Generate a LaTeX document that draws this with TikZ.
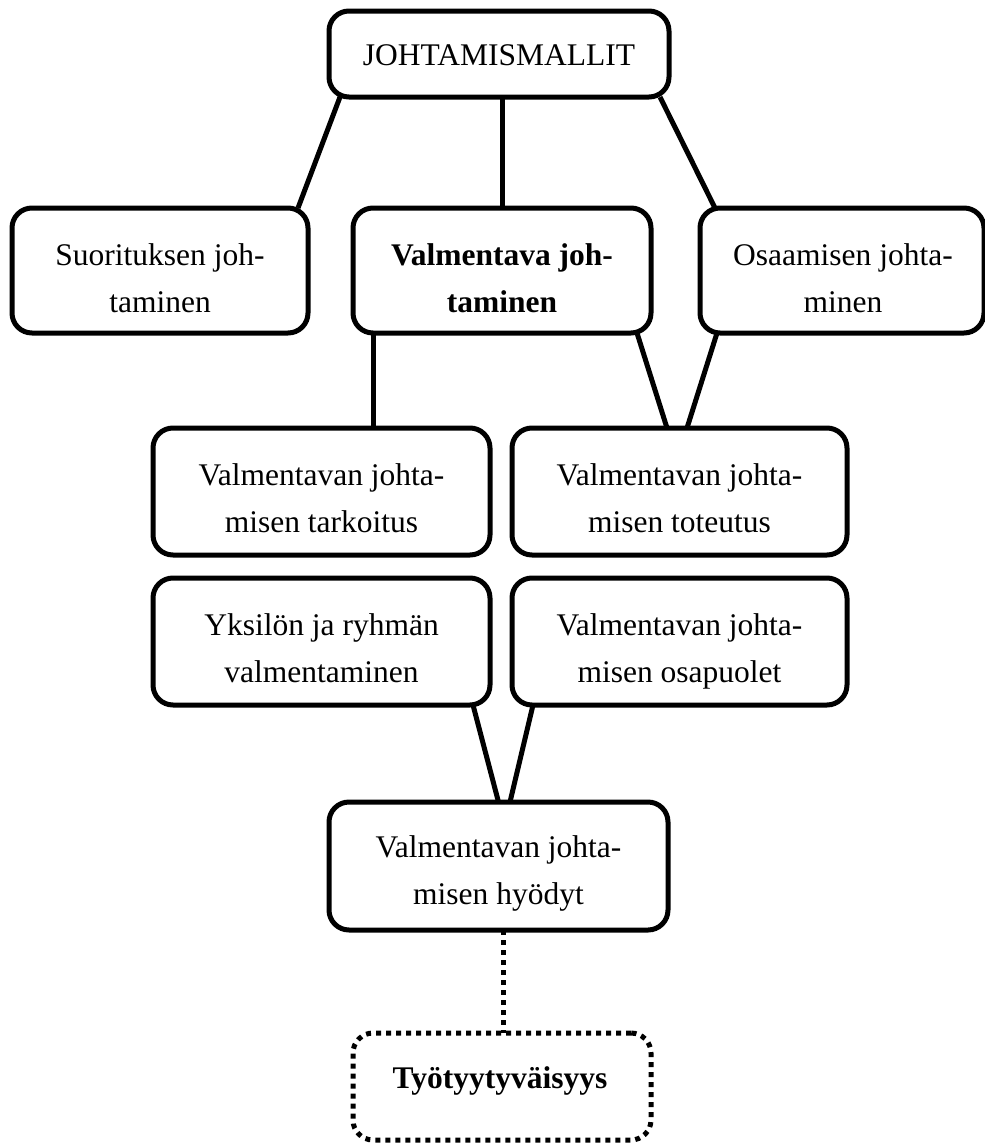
\documentclass[tikz,border=0pt]{standalone}
\usepackage{fontspec}
\setmainfont{Liberation Serif}
\usetikzlibrary{calc}
\newcommand\mytwoline[2]{\begin{tabular}[t]{@{}c@{}}#1\\#2\end{tabular}}
\tikzset{
  box/.style={draw, line width=5pt, rounded corners=20pt, inner sep=0pt, outer sep=0pt, fill=white},
  dotbox/.style={box, dash pattern=on 5pt off 5pt},
  txt/.style={anchor=base, inner sep=0pt, font=\fontsize{31.5}{47}\selectfont},
  conn/.style={line width=5pt},
  dotconn/.style={line width=5pt, dash pattern=on 5pt off 5pt},
}
\begin{document}
\begin{tikzpicture}[x=1pt, y=-1pt]
\useasboundingbox (0,0) rectangle (985,1144);
% boxes
\node[box, minimum width=340pt, minimum height=86pt] (top) at (499,54) {};
\node[box, minimum width=296pt, minimum height=125pt] (suor) at (160,270.5) {};
\node[box, minimum width=298pt, minimum height=125pt] (valm) at (502,270.5) {};
\node[box, minimum width=284pt, minimum height=125pt] (osaa) at (842,270.5) {};
\node[box, minimum width=337pt, minimum height=127pt] (tark) at (321.5,491.5) {};
\node[box, minimum width=335pt, minimum height=127pt] (tot) at (679.5,491.5) {};
\node[box, minimum width=337pt, minimum height=127pt] (yks) at (321.5,641.5) {};
\node[box, minimum width=335pt, minimum height=127pt] (osap) at (679.5,641.5) {};
\node[box, minimum width=339pt, minimum height=128pt] (hyo) at (498.5,866) {};
\node[dotbox, minimum width=298pt, minimum height=107pt] (tyo) at (502,1086.5) {};
% texts
\node[txt] (toptxt) at (499,65) {JOHTAMISMALLIT};
\node[txt] (suortxt) at (160,265) {\mytwoline{Suorituksen joh-}{taminen}};
\node[txt] (valmtxt) at (502,265) {\mytwoline{\textbf{Valmentava joh-}}{\textbf{taminen}}};
\node[txt] (osaatxt) at (843,265) {\mytwoline{Osaamisen johta-}{minen}};
\node[txt] (tarktxt) at (321.5,485) {\mytwoline{Valmentavan johta-}{misen tarkoitus}};
\node[txt] (tottxt) at (679.5,485) {\mytwoline{Valmentavan johta-}{misen toteutus}};
\node[txt] (ykstxt) at (321.5,635) {\mytwoline{Yksilön ja ryhmän}{valmentaminen}};
\node[txt] (osaptxt) at (679.5,635) {\mytwoline{Valmentavan johta-}{misen osapuolet}};
\node[txt] (hyotxt) at (498.5,857) {\mytwoline{Valmentavan johta-}{misen hyödyt}};
\node[txt] (tyotxt) at (500,1088) {\textbf{Työtyytyväisyys}};
% connectors
\draw[conn] ([xshift=11pt]top.south west) -- ([xshift=-10pt]suor.north east);
\draw[conn] (valm.north) -- (valm.north |- top.south);
\draw[conn] ([xshift=-9pt]top.south east) -- ([xshift=15pt]osaa.north west);
\coordinate (v1) at ([xshift=20pt]valm.south west);
\draw[conn] (v1) -- (v1 |- tark.north);
\draw[conn] ([xshift=-14pt]valm.south east) -- ([xshift=-12.5pt]tot.north);
\draw[conn] ([xshift=17pt]osaa.south west) -- ([xshift=7.5pt]tot.north);
\draw[conn] ([xshift=-17pt]yks.south east) -- (hyo.north);
\draw[conn] ([xshift=21pt]osap.south west) -- ([xshift=11.5pt]hyo.north);
\coordinate (d1) at ([xshift=4.5pt]hyo.south);
\draw[dotconn] (d1) -- (d1 |- tyo.north);
\end{tikzpicture}
\end{document}
